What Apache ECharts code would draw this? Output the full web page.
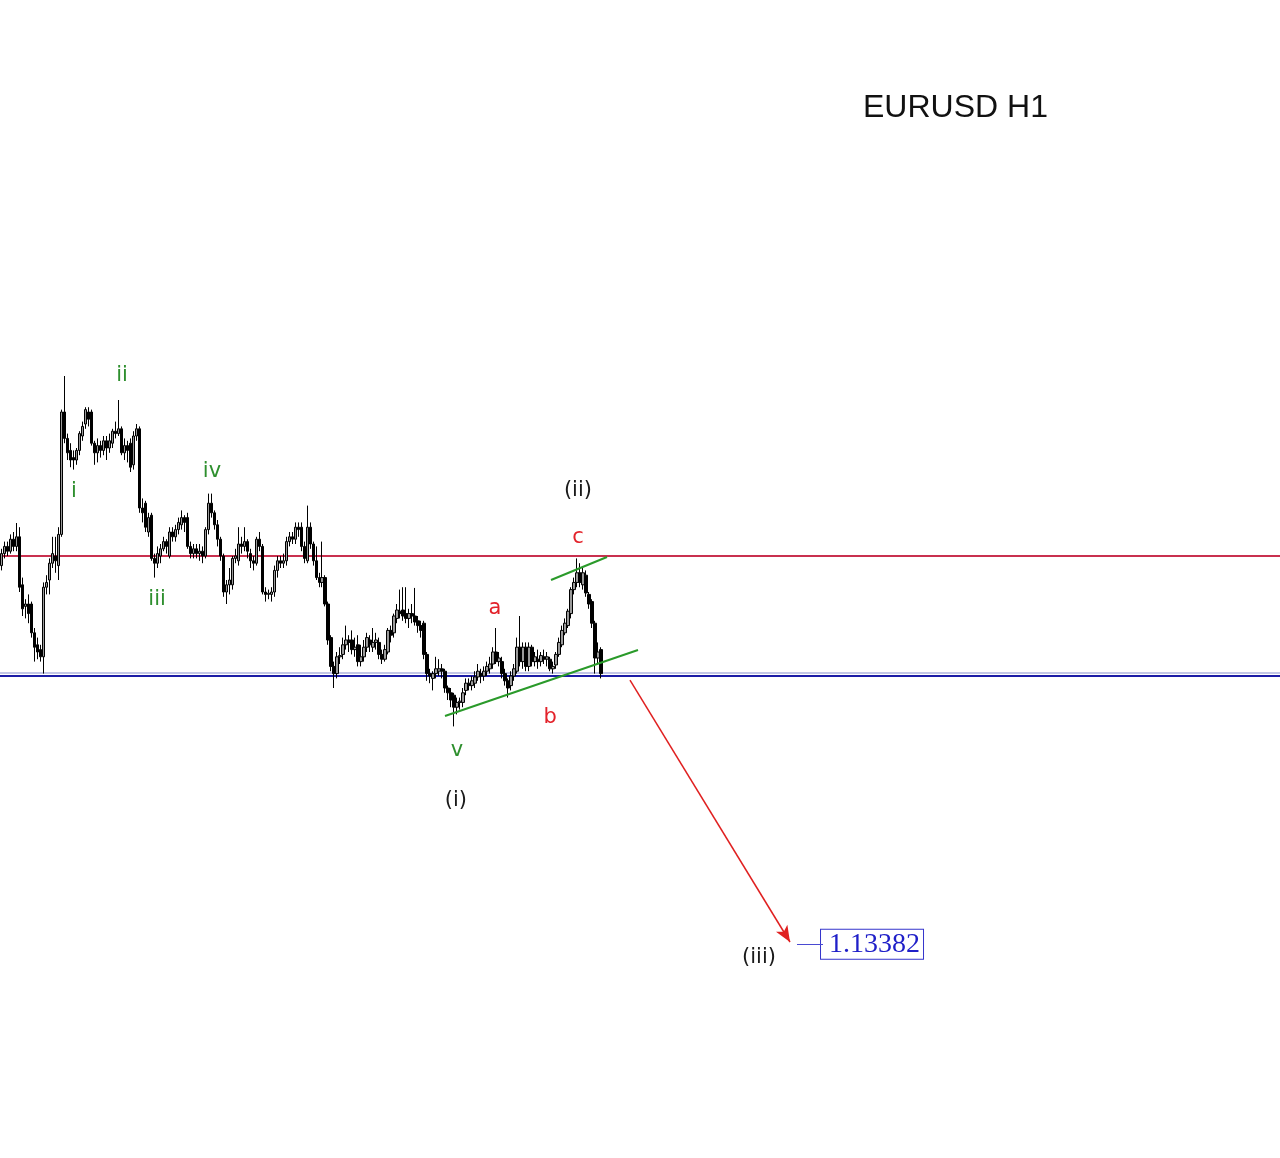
<!DOCTYPE html>
<html><head><meta charset="utf-8">
<script src="https://cdn.jsdelivr.net/npm/echarts@6/dist/echarts.min.js"></script>
<style>html,body{margin:0;padding:0;background:#fff}#c{width:1280px;height:1158px}</style>
</head><body><div id="c"></div>
<script>
// EURUSD H1 candles
const opens = [
1.1496,1.1501,1.1504,1.1502,1.1507,1.1504,1.1508,1.1488,1.1479,1.1480,
1.1480,1.1468,1.1463,1.1461,1.1458,1.1487,1.1490,1.1497,1.1500,1.1496,
1.1509,1.1560,1.1549,1.1544,1.1541,1.1540,1.1544,1.1550,1.1555,1.1560,
1.1560,1.1547,1.1543,1.1546,1.1544,1.1548,1.1545,1.1547,1.1552,1.1551,
1.1553,1.1543,1.1546,1.1547,1.1538,1.1550,1.1553,1.1520,1.1522,1.1510,
1.1517,1.1499,1.1497,1.1500,1.1503,1.1506,1.1500,1.1510,1.1508,1.1511,
1.1513,1.1516,1.1516,1.1504,1.1501,1.1503,1.1501,1.1502,1.1500,1.1511,
1.1522,1.1518,1.1513,1.1507,1.1500,1.1485,1.1488,1.1488,1.1499,1.1498,
1.1505,1.1504,1.1506,1.1501,1.1498,1.1497,1.1507,1.1504,1.1485,1.1484,
1.1484,1.1485,1.1494,1.1498,1.1497,1.1498,1.1506,1.1508,1.1507,1.1512,
1.1512,1.1504,1.1498,1.1512,1.1505,1.1498,1.1491,1.1489,1.1491,1.1480,
1.1466,1.1454,1.1451,1.1458,1.1459,1.1463,1.1465,1.1465,1.1461,1.1463,
1.1456,1.1458,1.1462,1.1465,1.1462,1.1464,1.1464,1.1459,1.1457,1.1460,
1.1469,1.1468,1.1474,1.1477,1.14775,1.1476,1.1474,1.1476,1.1475,1.1473,
1.1471,1.1472,1.1459,1.1451,1.1449,1.1451,1.1452,1.1453,1.1452,1.1445,
1.1443,1.1442,1.1437,1.1439,1.1439,1.1444,1.1447,1.1446,1.1447,1.14496,
1.1451,1.1450,1.1452,1.1453,1.1455,1.1460,1.1456,1.1456,1.1451,1.1448,
1.1446,1.1450,1.1452,1.1462,1.1456,1.1462,1.1454,1.1462,1.1456,1.1457,
1.1456,1.1458,1.1457,1.1457,1.1453,1.14546,1.1459,1.1463,1.1468,1.1471,
1.1476,1.1486,1.1489,1.1493,1.1488,1.1492,1.1484,1.1481,1.1472,1.14575,
1.1461];
const closes = [
1.1501,1.1504,1.1502,1.1507,1.1504,1.1508,1.1487,1.1478,1.1480,1.1476,
1.1468,1.1462,1.1460,1.1458,1.1487,1.1489,1.1497,1.1501,1.1498,1.1509,
1.1560,1.1549,1.1543,1.1540,1.1540,1.1544,1.1551,1.1554,1.1561,1.1557,
1.1547,1.1543,1.1546,1.1544,1.1548,1.1545,1.1548,1.1552,1.1551,1.1553,
1.1543,1.1546,1.1544,1.1537,1.1550,1.1553,1.1520,1.1518,1.1512,1.1516,
1.1499,1.1497,1.1501,1.1503,1.1506,1.1504,1.1510,1.1508,1.1511,1.1514,
1.1516,1.1514,1.1504,1.1501,1.1503,1.1501,1.1502,1.1500,1.1511,1.1522,
1.1518,1.1513,1.1507,1.1500,1.1485,1.1488,1.1490,1.1499,1.1500,1.1505,
1.1504,1.1506,1.1502,1.1498,1.1497,1.1507,1.1504,1.1485,1.1484,1.14845,
1.1485,1.1494,1.1498,1.1497,1.1498,1.1506,1.1508,1.1507,1.1512,1.1511,
1.1504,1.1499,1.1512,1.1505,1.1498,1.1491,1.1489,1.1491,1.1480,1.1465,
1.1454,1.1451,1.1458,1.14585,1.1463,1.1465,1.1464,1.1461,1.1462,1.1456,
1.1458,1.1462,1.1466,1.1463,1.1464,1.1465,1.1459,1.1457,1.1461,1.1469,
1.1467,1.1475,1.14775,1.1476,1.1475,1.1474,1.1476,1.1475,1.14725,1.1471,
1.1469,1.1459,1.1451,1.1450,1.1451,1.1453,1.1453,1.1452,1.1445,1.1443,
1.1440,1.1437,1.1439,1.14395,1.1443,1.1447,1.1446,1.1448,1.14496,1.1452,
1.1450,1.1452,1.1454,1.1455,1.1460,1.1456,1.14575,1.1451,1.1448,1.1445,
1.1450,1.1453,1.1462,1.1456,1.1462,1.1454,1.1462,1.1456,1.1458,1.1456,
1.14585,1.1457,1.1458,1.1453,1.1454,1.1459,1.1464,1.1469,1.1472,1.1477,
1.1486,1.1489,1.1493,1.1489,1.1493,1.14846,1.1480,1.1472,1.14575,1.1460,
1.1451];
const highs = [
1.1503,1.1506,1.1506,1.1509,1.1510,1.151375,1.1512,1.1491,1.1482,1.1484,
1.1481,1.1470,1.1466,1.1463,1.1489,1.1492,1.1499,1.1508,1.1508,1.1512,
1.1561,1.1575,1.1551,1.1547,1.1544,1.1545,1.1552,1.1556,1.1562,1.1562,
1.1561,1.1548,1.1549,1.1548,1.1550,1.1550,1.1551,1.1553,1.1556,1.1565,
1.1554,1.1549,1.1548,1.1549,1.1552,1.1555,1.1554,1.1524,1.1523,1.1518,
1.1518,1.1501,1.1504,1.1505,1.1508,1.1507,1.1512,1.1512,1.1513,1.1516,
1.1519,1.1517,1.1518,1.1506,1.1505,1.1505,1.1505,1.1504,1.1512,1.1526,
1.1526,1.1519,1.1515,1.1508,1.1501,1.1490,1.1495,1.1500,1.1503,1.1512,
1.1508,1.1512,1.1507,1.1503,1.1500,1.1508,1.1510,1.1505,1.1487,1.1486,
1.1487,1.1496,1.1500,1.1500,1.1501,1.1508,1.1510,1.1510,1.1514,1.1514,
1.1514,1.1506,1.1521,1.1514,1.1506,1.1504,1.1493,1.1506,1.1492,1.1481,
1.1467,1.1456,1.1460,1.1462,1.1466,1.1471,1.1467,1.1469,1.1466,1.1467,
1.1463,1.1465,1.1468,1.1467,1.1470,1.1468,1.1466,1.1461,1.1463,1.1470,
1.1471,1.1476,1.1480,1.1486,1.1487,1.1487,1.1478,1.1480,1.14867,1.1475,
1.1473,1.1473,1.1460,1.1453,1.1452,1.1458,1.1457,1.1455,1.1453,1.1446,
1.1445,1.1443,1.1441,1.1441,1.1445,1.1449,1.1449,1.1450,1.1452,1.1455,
1.1453,1.1454,1.1456,1.1458,1.1462,1.1470,1.1460,1.1458,1.1453,1.1449,
1.1452,1.1455,1.1466,1.1475,1.1464,1.1464,1.1464,1.1463,1.1460,1.1461,
1.1460,1.1461,1.1460,1.1458,1.1456,1.1460,1.1466,1.1471,1.1474,1.1478,
1.1487,1.1491,1.1499,1.1497,1.1495,1.1494,1.1485,1.1482,1.1473,1.1464,
1.1462];
const lows = [
1.1494,1.1499,1.1500,1.1501,1.1502,1.1502,1.1485,1.1475,1.1474,1.1472,
1.1466,1.1456,1.1457,1.1456,1.1451,1.1484,1.1484,1.1495,1.1493,1.1490,
1.1508,1.1547,1.1540,1.1537,1.1536,1.1538,1.1542,1.1548,1.1553,1.1554,
1.1546,1.1538,1.1539,1.1541,1.1542,1.1540,1.1543,1.1545,1.1549,1.1550,
1.1542,1.1540,1.1539,1.1535,1.1536,1.1548,1.1518,1.1514,1.1510,1.1508,
1.1498,1.1491,1.1495,1.1497,1.1502,1.1501,1.1499,1.1506,1.1506,1.1509,
1.1511,1.1510,1.1503,1.1499,1.1499,1.1499,1.1498,1.1497,1.1499,1.1509,
1.1516,1.1511,1.1504,1.1498,1.1483,1.1480,1.1484,1.1486,1.1497,1.1496,
1.1501,1.1502,1.1499,1.1495,1.1494,1.1496,1.1502,1.1484,1.1481,1.1482,
1.1481,1.1483,1.1491,1.1495,1.1495,1.1496,1.1504,1.1505,1.1505,1.1508,
1.1502,1.1497,1.1497,1.1503,1.1496,1.1490,1.1487,1.1487,1.1479,1.1463,
1.1452,1.1445,1.1449,1.1455,1.1457,1.1461,1.1460,1.1459,1.1458,1.1454,
1.1454,1.1456,1.1460,1.1460,1.1460,1.1461,1.1457,1.1455,1.1456,1.1459,
1.1464,1.1466,1.1472,1.1474,1.1473,1.1472,1.1470,1.1472,1.1471,1.1468,
1.1466,1.1457,1.1448,1.1447,1.1444,1.1449,1.1450,1.1449,1.1443,1.1440,
1.1437,1.1429,1.1434,1.1436,1.1437,1.1442,1.1444,1.1444,1.1445,1.1448,
1.1447,1.1448,1.1450,1.1451,1.1453,1.1455,1.1454,1.1449,1.1446,1.1441,
1.1444,1.1448,1.1451,1.1454,1.1453,1.1452,1.1452,1.1454,1.1454,1.1453,
1.1454,1.1455,1.1454,1.1452,1.1451,1.1453,1.1458,1.1462,1.1467,1.1470,
1.1474,1.1484,1.1487,1.1487,1.1486,1.1483,1.1478,1.1470,1.1451,1.1455,
1.1449];

// horizontal levels and target
const resistanceLevel = 1.1500;
const supportLevel = 1.1450;
const supportShadow = 1.14513;
const targetLevel = 1.13382;

// annotation anchors: [text, bar slot, price]
const greenLabels = [['i',24.2,1.15267],['ii',40.2,1.15754],['iii',51.9,1.14817],['iv',70.2,1.1535],['v',151.9,1.14188]];
const blackLabels = [['(i)',151.6,1.13983],['(ii)',192.3,1.15271],['(iii)',252.7,1.13329]];
const redLabels = [['a',164.6,1.14783],['b',183.0,1.14329],['c',192.3,1.15075]];

// drawn lines: [[slot, price],[slot, price]]
const lowerChannel = [[147.95,1.143333],[212.33,1.146083]];
const upperChannel = [[183.31,1.1490],[201.99,1.149958]];
const forecastArrow = [[209.66,1.144833],[263.04,1.133917]];
const targetTick = [[265.37,targetLevel],[274.05,targetLevel]];
const targetBoxSlot = 290.4;

const SLOTS = 427;
const slots = [];
for (let i = 0; i < SLOTS; i++) slots.push(String(i));

const candles = opens.map((o, i) => [o, closes[i], lows[i], highs[i]]);

function labelItems(list, color) {
  return list.map(([t, x, y]) => ({
    value: [x, y], name: t,
    label: { show: true, position: 'inside', formatter: '{b}', color: color,
      fontFamily: 'DejaVu Sans', fontSize: 21, lineHeight: 21 }
  }));
}
function seg(pts, style, endSymbol) {
  return [
    { coord: pts[0], symbol: 'none', lineStyle: style },
    { coord: pts[1], symbol: endSymbol || 'none', symbolSize: [10, 16] }
  ];
}
const fullWidth = (price) => [[-0.5, price], [SLOTS - 0.5, price]];

const chart = echarts.init(document.getElementById('c'), null, { renderer: 'canvas' });
chart.setOption({
  animation: false,
  backgroundColor: '#ffffff',
  title: {
    text: 'EURUSD H1', left: 858, top: 87,
    textStyle: { fontFamily: 'Liberation Sans', fontSize: 32, fontWeight: 'normal', color: '#111111' }
  },
  grid: { left: 0, right: 0, top: 0, bottom: 0, containLabel: false },
  xAxis: [
    { type: 'category', data: slots, boundaryGap: true, show: false },
    { type: 'value', min: -0.5, max: SLOTS - 0.5, show: false }
  ],
  yAxis: { type: 'value', min: 1.124917, max: 1.173167, show: false, splitLine: { show: false } },
  series: [
    {
      type: 'scatter', xAxisIndex: 1, symbolSize: 1, z: 1,
      itemStyle: { color: 'rgba(0,0,0,0)', opacity: 1 },
      data: [],
      markLine: {
        silent: true, label: { show: false }, symbol: ['none', 'none'], z: 1,
        data: [
          seg(fullWidth(supportShadow), { color: '#c3c6e6', width: 2, type: 'solid' }),
          seg(fullWidth(resistanceLevel), { color: '#c9304f', width: 2, type: 'solid' }),
          seg(fullWidth(supportLevel), { color: '#1c1ca6', width: 2, type: 'solid' })
        ]
      }
    },
    {
      type: 'candlestick', xAxisIndex: 0, data: candles, barWidth: 3, z: 2,
      itemStyle: { color: '#9a9a9a', color0: '#000000', borderColor: '#000000', borderColor0: '#000000', borderWidth: 1 }
    },
    {
      type: 'scatter', xAxisIndex: 1, symbolSize: 1, z: 3,
      itemStyle: { color: 'rgba(0,0,0,0)', opacity: 1 },
      data: [].concat(
        labelItems(greenLabels, '#2e8f2e'),
        labelItems(blackLabels, '#1a1a1a'),
        labelItems(redLabels, '#e3222a'),
        [{
          value: [targetBoxSlot, targetLevel], name: String(targetLevel),
          label: { show: true, position: 'inside', formatter: '{b}', color: '#1f1fc8',
            fontFamily: 'Liberation Serif', fontSize: 28, lineHeight: 26,
            backgroundColor: '#ffffff', borderColor: '#3434cc', borderWidth: 1, padding: [2, 3, 1, 8] }
        }]
      ),
      markLine: {
        silent: true, label: { show: false }, symbol: ['none', 'none'],
        data: [
          seg(lowerChannel, { color: '#2a9a2a', width: 2, type: 'solid' }),
          seg(upperChannel, { color: '#2a9a2a', width: 2, type: 'solid' }),
          seg(targetTick, { color: '#4a4ad2', width: 1, type: 'solid' }),
          seg(forecastArrow, { color: '#e02020', width: 1.5, type: 'solid' }, 'arrow')
        ]
      }
    }
  ]
});
</script></body></html>
